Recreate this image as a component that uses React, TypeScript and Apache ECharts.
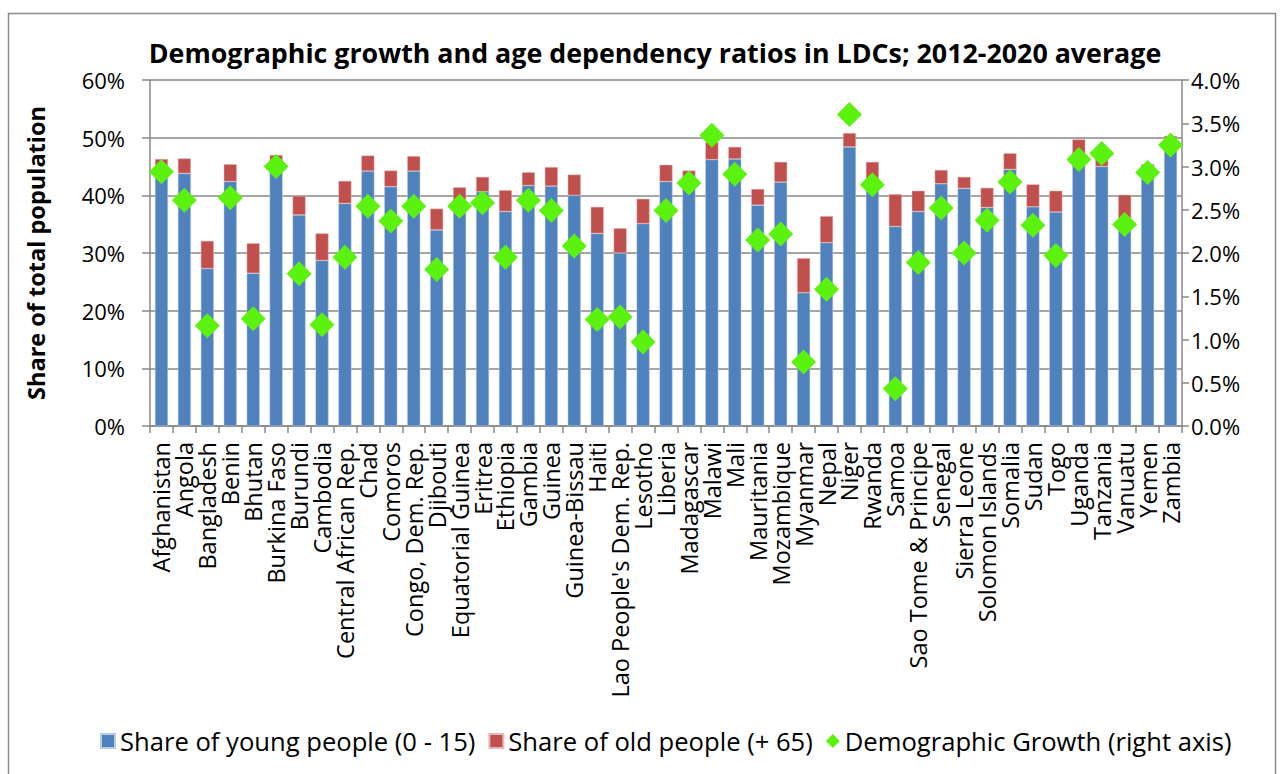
import React, { useEffect, useRef } from "react";
import * as echarts from "echarts";

const categories = [
  "Afghanistan", "Angola", "Bangladesh", "Benin", "Bhutan", "Burkina Faso", "Burundi", "Cambodia",
  "Central African Rep.", "Chad", "Comoros", "Congo, Dem. Rep.", "Djibouti", "Equatorial Guinea",
  "Eritrea", "Ethiopia", "Gambia", "Guinea", "Guinea-Bissau", "Haiti", "Lao People's Dem. Rep.",
  "Lesotho", "Liberia", "Madagascar", "Malawi", "Mali", "Mauritania", "Mozambique", "Myanmar",
  "Nepal", "Niger", "Rwanda", "Samoa", "Sao Tome & Principe", "Senegal", "Sierra Leone",
  "Solomon Islands", "Somalia", "Sudan", "Togo", "Uganda", "Tanzania", "Vanuatu", "Yemen", "Zambia",
];

// Share of young people (0 - 15), % of total population
const youngShare = [
  45.0, 43.8, 27.3, 42.4, 26.5, 45.8, 36.6, 28.7, 38.6, 44.2, 41.5, 44.2, 34.0, 38.8, 40.6,
  37.2, 41.7, 41.6, 40.0, 33.4, 30.0, 35.1, 42.4, 42.5, 46.2, 46.3, 38.3, 42.3, 23.1, 31.8,
  48.4, 42.5, 34.6, 37.2, 42.0, 41.2, 37.9, 44.5, 38.0, 37.1, 47.0, 45.0, 35.5, 44.0, 49.0,
];

// Share of old people (+ 65), % of total population
const oldShare = [
  1.3, 2.6, 4.8, 3.0, 5.2, 1.2, 3.3, 4.7, 3.9, 2.7, 2.8, 2.6, 3.7, 2.6, 2.6,
  3.7, 2.3, 3.3, 3.6, 4.6, 4.3, 4.3, 2.9, 1.8, 3.0, 2.1, 2.8, 3.5, 6.0, 4.6,
  2.4, 3.3, 5.6, 3.6, 2.4, 2.0, 3.4, 2.8, 3.9, 3.7, 2.7, 1.5, 4.6, 1.4, 1.3,
];

// Demographic growth, % (right axis)
const growth = [
  2.94, 2.61, 1.16, 2.64, 1.24, 3.0, 1.76, 1.17, 1.95, 2.54, 2.37, 2.54, 1.81, 2.54, 2.58,
  1.95, 2.61, 2.49, 2.08, 1.23, 1.26, 0.97, 2.49, 2.81, 3.36, 2.91, 2.15, 2.22, 0.74, 1.58,
  3.6, 2.79, 0.43, 1.89, 2.52, 2.0, 2.38, 2.82, 2.32, 1.97, 3.08, 3.15, 2.33, 2.93, 3.25,
];

const leftTicks = { min: 0, max: 60, interval: 10 };
const rightTicks = { min: 0, max: 4, interval: 0.5 };

const FONT = "'Open Sans', 'DejaVu Sans', sans-serif";
const GRID = "#888888";

export default function App() {
  const ref = useRef<HTMLDivElement>(null);

  useEffect(() => {
    if (!ref.current) return;
    const chart = echarts.init(ref.current, undefined, { renderer: "svg" });
    chart.setOption({
      animation: false,
      backgroundColor: "#ffffff",
      textStyle: { fontFamily: FONT, color: "#000" },
      title: {
        text: "Demographic growth and age dependency ratios in LDCs; 2012-2020 average",
        left: 650,
        textAlign: "center",
        top: 34,
        textStyle: { fontFamily: FONT, fontSize: 26.8, fontWeight: "bold", color: "#000" },
      },
      graphic: [
        {
          type: "rect",
          shape: { x: 8.5, y: 13.5, width: 1267, height: 780 },
          style: { fill: "none", stroke: "#8a8a8a", lineWidth: 1.5 },
          silent: true,
        },
      ],
      legend: {
        bottom: 15,
        left: 95,
        itemGap: 13,
        itemWidth: 14,
        itemHeight: 14,
        textStyle: { fontFamily: FONT, fontSize: 25.6, color: "#000" },
        data: [
          { name: "Share of young people (0 - 15)", icon: "rect" },
          { name: "Share of old people (+ 65)", icon: "rect" },
          { name: "Demographic Growth (right axis)", icon: "diamond" },
        ],
      },
      grid: { left: 150, right: 102, top: 80, bottom: 348, containLabel: false },
      xAxis: {
        type: "category",
        data: categories,
        boundaryGap: true,
        axisLine: { lineStyle: { color: GRID, width: 1.5 } },
        axisTick: { show: true, length: 7, lineStyle: { color: GRID, width: 1.5 } },
        axisLabel: {
          interval: 0,
          rotate: 90,
          margin: 16,
          fontFamily: FONT,
          fontSize: 23.5,
          color: "#000",
        },
      },
      yAxis: [
        {
          type: "value",
          min: leftTicks.min,
          max: leftTicks.max,
          interval: leftTicks.interval,
          name: "Share of total population",
          nameLocation: "middle",
          nameRotate: 90,
          nameGap: 102,
          nameTextStyle: { fontFamily: FONT, fontSize: 23.5, fontWeight: "bold", color: "#000" },
          axisLine: { show: true, lineStyle: { color: GRID, width: 1.5 } },
          axisTick: { show: true, length: 8, lineStyle: { color: GRID, width: 1.5 } },
          splitLine: { show: true, lineStyle: { color: GRID, width: 1.5 } },
          axisLabel: {
            margin: 25,
            fontFamily: FONT,
            fontSize: 22,
            color: "#000",
            formatter: (v: number) => `${v}%`,
          },
        },
        {
          type: "value",
          min: rightTicks.min,
          max: rightTicks.max,
          interval: rightTicks.interval,
          position: "right",
          axisLine: { show: true, lineStyle: { color: GRID, width: 1.5 } },
          axisTick: { show: true, length: 7, lineStyle: { color: GRID, width: 1.5 } },
          splitLine: { show: false },
          axisLabel: {
            margin: 9,
            fontFamily: FONT,
            fontSize: 22,
            color: "#000",
            formatter: (v: number) => `${v.toFixed(1)}%`,
          },
        },
      ],
      series: [
        {
          name: "Share of young people (0 - 15)",
          type: "bar",
          stack: "pop",
          data: youngShare,
          barWidth: 13,
          itemStyle: { color: "#4F81BD", borderColor: "#b9cde5", borderWidth: 0.5 },
        },
        {
          name: "Share of old people (+ 65)",
          type: "bar",
          stack: "pop",
          data: oldShare,
          barWidth: 13,
          itemStyle: { color: "#C0504D", borderColor: "#e6b9b8", borderWidth: 0.5 },
        },
        {
          name: "Demographic Growth (right axis)",
          type: "scatter",
          yAxisIndex: 1,
          data: growth,
          symbol: "diamond",
          symbolSize: 25,
          itemStyle: { color: "#5CF20F", opacity: 1 },
          z: 5,
        },
      ],
    });
    return () => chart.dispose();
  }, []);

  return (
    <div
      ref={ref}
      style={{ position: "fixed", left: 0, top: 0, width: 1284, height: 774 }}
    />
  );
}
